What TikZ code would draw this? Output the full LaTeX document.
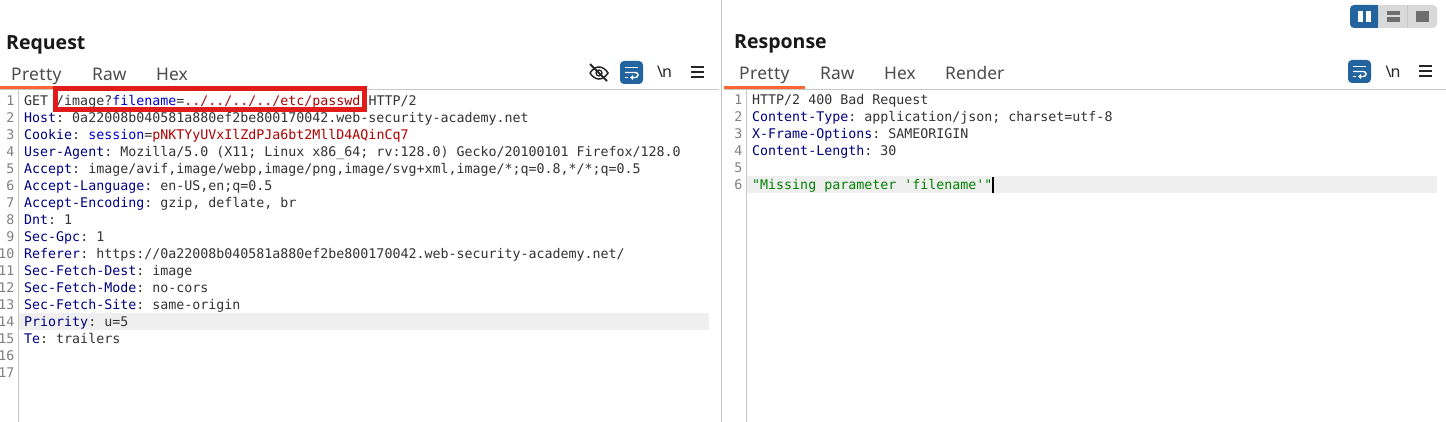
\documentclass[tikz,border=0pt]{standalone}
\usepackage{fontspec}
\usepackage{tikz}
\setmainfont{Noto Sans}
\newfontfamily\codefont{DejaVu Sans Mono}
\newfontfamily\titlefont{Open Sans}
\newfontfamily\prettyfont[LetterSpace=2]{Noto Sans}
\definecolor{hdrkey}{HTML}{000080}
\definecolor{parkey}{HTML}{0000C8}
\definecolor{parval}{HTML}{B00000}
\definecolor{strval}{HTML}{008000}
\definecolor{plain}{HTML}{333333}
\definecolor{lineno}{HTML}{808080}
\definecolor{rule}{HTML}{C8C8C8}
\definecolor{hilite}{HTML}{EFEFEF}
\definecolor{accent}{HTML}{FF6633}
\definecolor{btnblue}{HTML}{23649E}
\definecolor{btngray}{HTML}{D9D9D9}
\definecolor{btnmark}{HTML}{6E6E6E}
\definecolor{boxred}{HTML}{E21B1B}
\newcommand{\hk}[1]{\textcolor{hdrkey}{#1}}
\newcommand{\pk}[1]{\textcolor{parkey}{#1}}
\newcommand{\pv}[1]{\textcolor{parval}{#1}}

\begin{document}
\frenchspacing
\begin{tikzpicture}[x=1pt,y=-1pt]
	\tikzset{codeline/.style={anchor=base west,inner sep=0pt,text=plain,font=\codefont\fontsize{13.3}{17}\selectfont}}
	\tikzset{numline/.style={anchor=base east,inner sep=0pt,text=lineno,font=\codefont\fontsize{13.3}{17}\selectfont}}
	\tikzset{paneltitle/.style={anchor=base west,inner sep=0pt,text=black!90,font=\titlefont\fontsize{19.5}{24}\selectfont\bfseries}}
	\tikzset{tabname/.style={anchor=base west,inner sep=0pt,text=black!70,font=\fontsize{17.4}{20}\selectfont}}
	\tikzset{prettytab/.style={tabname,font=\prettyfont\fontsize{17.4}{20}\selectfont}}
	\tikzset{escname/.style={anchor=base,inner sep=0pt,text=black!85,font=\fontsize{16}{20}\selectfont}}
	\useasboundingbox (0,0) rectangle (1446,422);
	\fill[white] (0,0) rectangle (1446,422);

	\fill[hilite] (19,312.5) rectangle (709,330);
	\fill[hilite] (747,176.5) rectangle (1437,193.5);
	\draw[rule,line width=1.2pt] (721.5,0) -- (721.5,422);
	\draw[rule,line width=1pt] (0,89.5) -- (719,89.5);
	\draw[rule,line width=1pt] (724,89.5) -- (1446,89.5);
	\draw[rule,line width=1pt] (18.5,90) -- (18.5,422);
	\draw[rule,line width=1pt] (746.5,90) -- (746.5,422);
	\fill[accent] (0,86.5) rectangle (66,89);
	\fill[accent] (724,86.5) rectangle (805,89);

	\node[paneltitle] (reqtitle) at (6,50) {Request};
	\node[paneltitle] (resptitle) at (734,49) {Response};
	\node[prettytab] (reqpretty) at (11,81) {Pretty};
	\node[tabname] (reqraw) at (92,81) {Raw};
	\node[tabname] (reqhex) at (156,81) {Hex};
	\node[prettytab] (resppretty) at (739,80) {Pretty};
	\node[tabname] (respraw) at (820,80) {Raw};
	\node[tabname] (resphex) at (884,80) {Hex};
	\node[tabname] (resprender) at (945,80) {Render};

	\foreach \n in {1,...,17}
		\node[numline] (reqnum\n) at (14.5,88.6+17*\n) {\n};
	\foreach \n in {1,...,6}
		\node[numline] (respnum\n) at (742.5,88+17*\n) {\n};

	\node[codeline] (req1) at (24,105.6) {GET /image?\pk{filename}=\pv{../../../../etc/passwd} HTTP/2};
	\node[codeline] (req2) at (24,122.6) {\hk{Host}: 0a22008b040581a880ef2be800170042.web-security-academy.net};
	\node[codeline] (req3) at (24,139.6) {\hk{Cookie}: \pk{session}=\pv{pNKTYyUVxIlZdPJa6bt2MllD4AQinCq7}};
	\node[codeline] (req4) at (24,156.6) {\hk{User-Agent}: Mozilla/5.0 (X11; Linux x86\_64; rv:128.0) Gecko/20100101 Firefox/128.0};
	\node[codeline] (req5) at (24,173.6) {\hk{Accept}: image/avif,image/webp,image/png,image/svg+xml,image/*;q=0.8,*/*;q=0.5};
	\node[codeline] (req6) at (24,190.6) {\hk{Accept-Language}: en-US,en;q=0.5};
	\node[codeline] (req7) at (24,207.6) {\hk{Accept-Encoding}: gzip, deflate, br};
	\node[codeline] (req8) at (24,224.6) {\hk{Dnt}: 1};
	\node[codeline] (req9) at (24,241.6) {\hk{Sec-Gpc}: 1};
	\node[codeline] (req10) at (24,258.6) {\hk{Referer}: https://0a22008b040581a880ef2be800170042.web-security-academy.net/};
	\node[codeline] (req11) at (24,275.6) {\hk{Sec-Fetch-Dest}: image};
	\node[codeline] (req12) at (24,292.6) {\hk{Sec-Fetch-Mode}: no-cors};
	\node[codeline] (req13) at (24,309.6) {\hk{Sec-Fetch-Site}: same-origin};
	\node[codeline] (req14) at (24,326.6) {\hk{Priority}: u=5};
	\node[codeline] (req15) at (24,343.6) {\hk{Te}: trailers};

	\node[codeline] (resp1) at (752,105) {HTTP/2 400 Bad Request};
	\node[codeline] (resp2) at (752,122) {\hk{Content-Type}: application/json; charset=utf-8};
	\node[codeline] (resp3) at (752,139) {\hk{X-Frame-Options}: SAMEORIGIN};
	\node[codeline] (resp4) at (752,156) {\hk{Content-Length}: 30};
	\node[codeline] (resp6) at (752,190) {\textcolor{strval}{"Missing parameter 'filename'"}};
	\fill[black] (992,177) rectangle (994,193);

	\draw[boxred,line width=5pt] (55.5,88.5) rectangle (364.5,109.5);

	% layout switch, top right
	\fill[btngray,rounded corners=4pt] (1370,5) rectangle (1437,28);
	\fill[btnblue,rounded corners=4pt] (1350,5) rectangle (1378,28);
	\fill[btnblue] (1372,5) rectangle (1378,28);
	\draw[rule,line width=0.6pt] (1407.5,5) -- (1407.5,28);
	\fill[white] (1358,11) rectangle (1363,22);
	\fill[white] (1366,11) rectangle (1371,22);
	\fill[btnmark] (1387,11) rectangle (1400,15.5);
	\fill[btnmark] (1387,17.5) rectangle (1400,22);
	\fill[btnmark] (1416,11) rectangle (1429,22);

	% eye icon
	\draw[black!85,line width=1.5pt] (590,73) .. controls (595,65) and (603,65) .. (608,73) .. controls (603,81) and (595,81) .. (590,73);
	\draw[black!85,line width=1.3pt] (599,73) circle (3pt);
	\draw[black!85,line width=1.8pt] (590,64) -- (607,81);

	% wrap buttons
	\foreach \bx/\by in {620/61,1348/60}{
		\fill[btnblue,rounded corners=4pt] (\bx,\by) rectangle (\bx+23,\by+23);
		\draw[white,line width=1.4pt] (\bx+5,\by+6.5) -- (\bx+18,\by+6.5);
		\draw[white,line width=1.4pt] (\bx+5,\by+11.5) -- (\bx+15.5,\by+11.5) arc[start angle=90,end angle=-90,radius=2.5pt] -- (\bx+11,\by+16.5);
		\draw[white,line width=1.4pt] (\bx+5,\by+16.5) -- (\bx+8,\by+16.5);
		\fill[white] (\bx+10,\by+16.5) -- (\bx+13,\by+14) -- (\bx+13,\by+19) -- cycle;
	}

	\node[escname] (reqesc) at (664.5,78) {\textbackslash\hspace{-1pt}n};
	\node[escname] (respesc) at (1393,78) {\textbackslash\hspace{-1pt}n};

	% menu icons
	\foreach \mx/\my in {691/67,1419/66}
		\foreach \k in {0,5,10}
			\draw[black!85,line width=1.4pt] (\mx,\my+\k) -- (\mx+13,\my+\k);
\end{tikzpicture}
\end{document}
